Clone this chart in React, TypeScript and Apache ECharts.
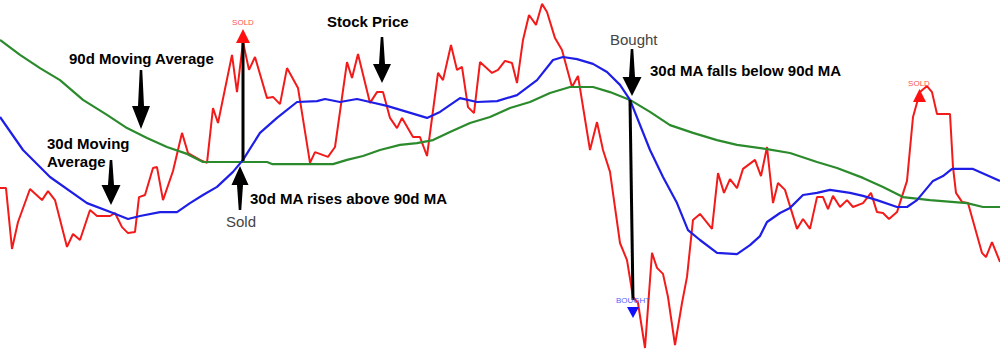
import React, { useEffect, useRef } from "react";
import * as echarts from "echarts";

// [trading day, price]
const stockPrice: number[][] = [
  [0, 57.3], [1.2, 57.3], [2.4, 37], [3.6, 46], [6, 57], [8.4, 53.3], [9.6, 56.3], [11, 53.3],
  [13.4, 37.7], [14.6, 42], [16, 40], [18, 50], [19.4, 48], [22, 48], [23, 49], [24.4, 44.3],
  [25.6, 42.3], [27, 42.7], [27.8, 54.3], [29, 55], [30.6, 64], [31.4, 64.3], [32.6, 53.3],
  [34.6, 63], [36.4, 75.7], [37.6, 69], [40, 66.7], [41.4, 65.7], [42.6, 84], [43.6, 79],
  [46.4, 101.7], [47.4, 89.3], [48.6, 106], [49.8, 96.7], [51, 101], [53.4, 87.3], [54.6, 87.7],
  [56, 85.3], [57.4, 97.3], [59.6, 90.7], [62, 65.7], [63, 69.3], [65.6, 67.7], [67, 71],
  [69.4, 99.3], [70.4, 94], [71.6, 102], [74, 85.7], [75.4, 89.3], [76.6, 89.3], [78, 80.7],
  [79.4, 77.3], [80.4, 80.7], [82.6, 74.3], [84, 74.3], [85.4, 68], [87.6, 95.7], [88.6, 93.3],
  [90.2, 105], [91.4, 96.7], [92.4, 97.7], [93.6, 84.3], [94.8, 82.3], [96, 99.3], [98.4, 95.7],
  [99.6, 96.7], [101, 99.7], [102.4, 99], [103.4, 92.3], [104.6, 106.7], [105.8, 115],
  [107.2, 111.7], [108.4, 118.7], [109.4, 116], [111, 107.3], [112.4, 103.3], [114.4, 91],
  [115.6, 94.7], [118, 70], [119.4, 79.3], [120.6, 70], [122, 62.7], [124, 39], [125.4, 33.3],
  [126.6, 21], [127.6, 19], [129, 4], [130.4, 35.7], [131.4, 30.7], [132.6, 28.7], [133.6, 21],
  [135, 5], [136.4, 19], [137.4, 27.7], [138.6, 46.7], [140, 48.7], [142.4, 43.7], [143.6, 62.3],
  [144.8, 55.7], [146, 60.3], [147.4, 57.3], [148.6, 63.7], [151, 66.7], [152.2, 61.3],
  [153.4, 71], [154.6, 52.3], [155.6, 59], [157, 56.7], [159.4, 43.7], [160.6, 47], [162, 43.7],
  [163.4, 54.3], [164.6, 54.3], [165.6, 50.3], [166.6, 54.7], [168, 51], [169.4, 53.3],
  [170.6, 51], [172.6, 52.3], [174.2, 55.7], [175.4, 49.3], [176.6, 49], [177.8, 47],
  [179.4, 49.3], [181.4, 59.7], [182.6, 81], [184, 89.3], [185.4, 91.3], [186.4, 89.3],
  [187.4, 82], [190, 82], [190.6, 64.3], [191.2, 55.7], [192.4, 52.7], [193.6, 52.3],
  [196.4, 35.7], [197.2, 34.3], [198.4, 39.3], [200, 32.7],
];

const ma30: number[][] = [
  [0, 81], [4.6, 70], [10, 61], [17.4, 52.3], [22.6, 49], [25.6, 47], [28, 48], [32, 49.3],
  [35.4, 49.3], [38, 52.3], [40.6, 55], [43.4, 57.7], [46.6, 62.7], [48.6, 66.7], [52, 75.7],
  [55.4, 80.7], [59.4, 86], [63.4, 86.3], [65, 87], [68, 86], [71.4, 87], [74, 86], [77.4, 84.7],
  [81.4, 82.7], [85.4, 80.7], [88, 82.7], [92, 87.3], [95.4, 86], [99.4, 86.3], [103.4, 88.3],
  [107.4, 93.3], [110.6, 100], [112.6, 101], [115.4, 100.3], [118.6, 98.7], [121.4, 96],
  [124, 91.7], [126, 86.7], [130, 70], [132.6, 61], [135.4, 52.3], [137.6, 43.3], [140, 40],
  [143.4, 35.7], [147.4, 35.3], [150, 38.3], [152, 41.3], [153.4, 46], [156, 49], [158, 50.7],
  [160.6, 55], [163.4, 55.7], [166, 56.7], [170, 55.7], [172.6, 54.7], [175.4, 53.3],
  [179.4, 51], [181.4, 51], [183.4, 53.3], [186.6, 59.7], [188.6, 61.3], [190.4, 63.7],
  [194.6, 63.7], [200, 59.7],
];

const ma90: number[][] = [
  [0, 106.7], [4, 101.7], [8, 97.3], [12, 93.3], [16.6, 86.7], [21.4, 81.7], [25.4, 77.3],
  [29.4, 74], [33.4, 71], [37.4, 68.7], [40.6, 66], [53.4, 66], [54.4, 65.3], [66.6, 65.3],
  [69.4, 66.7], [72.6, 68], [76, 70], [80, 71.7], [83.4, 72.3], [86.6, 73.3], [90, 76], [94, 79],
  [98, 81], [102, 84], [106, 86], [110, 89], [114, 91], [118.6, 91], [122, 89.3], [126, 86.7],
  [130, 82.7], [134, 78.3], [138.6, 75.7], [143.4, 73.3], [147.4, 71.7], [153.4, 70.3],
  [158, 69], [163.4, 66], [167.4, 64], [172.6, 60.7], [176.6, 57.7], [180.6, 54.3], [186, 53.3],
  [193.4, 52.3], [196.6, 51], [200, 51],
];

const FONT = '"Liberation Sans", Arial, sans-serif';

function arrow(cx: number, yStart: number, yHead: number, yTip: number, hw: number, w0: number, w1: number) {
  return {
    type: "polygon",
    z: 100,
    shape: {
      points: [
        [cx - w0 / 2, yStart], [cx + w0 / 2, yStart], [cx + w1 / 2, yHead], [cx + hw, yHead],
        [cx, yTip], [cx - hw, yHead], [cx - w1 / 2, yHead],
      ],
    },
    style: { fill: "#000" },
  };
}

function label(text: string, x: number, y: number, opts: any = {}) {
  return {
    type: "text",
    z: 100,
    x,
    y,
    style: {
      text,
      fill: opts.fill || "#000",
      fontSize: opts.fontSize || 15,
      fontWeight: opts.fontWeight || "bold",
      fontFamily: FONT,
      align: opts.align || "left",
      verticalAlign: "middle",
    },
  };
}

export default function App() {
  const ref = useRef<HTMLDivElement>(null);
  useEffect(() => {
    if (!ref.current) return;
    const chart = echarts.init(ref.current, null, { renderer: "svg" });
    chart.setOption({
      animation: false,
      backgroundColor: "#fff",
      grid: { left: 0, right: 0, top: 0, bottom: 1 },
      xAxis: { type: "value", min: 0, max: 200, show: false },
      yAxis: { type: "value", min: 0, max: 120, show: false },
      series: [
        {
          name: "Stock Price",
          type: "line",
          data: stockPrice,
          showSymbol: false,
          lineStyle: { color: "#f31a1a", width: 2 },
          z: 2,
        },
        {
          name: "90d Moving Average",
          type: "line",
          data: ma90,
          showSymbol: false,
          lineStyle: { color: "#2b8a2b", width: 2.2 },
          z: 3,
        },
        {
          name: "30d Moving Average",
          type: "line",
          data: ma30,
          showSymbol: false,
          lineStyle: { color: "#1e1ee6", width: 2.2 },
          z: 4,
        },
      ],
      graphic: [
        // arrows
        arrow(141, 70, 106, 129, 9, 2.5, 6),
        arrow(111, 160, 185, 205, 9.5, 2.5, 6),
        arrow(382, 37, 64, 83, 9, 2.5, 6),
        arrow(240, 210, 185, 166, 8.5, 2.5, 6),
        arrow(632, 49, 77, 96, 9.5, 2.5, 6),
        // signal lines
        { type: "line", z: 100, shape: { x1: 243, y1: 161, x2: 243, y2: 42 }, style: { stroke: "#000", lineWidth: 3 } },
        { type: "line", z: 100, shape: { x1: 630, y1: 100, x2: 633, y2: 300 }, style: { stroke: "#000", lineWidth: 3 } },
        // markers
        { type: "polygon", z: 101, shape: { points: [[236, 43], [250, 43], [243, 29]] }, style: { fill: "#ff1010" } },
        { type: "polygon", z: 101, shape: { points: [[913, 102], [926, 102], [919.5, 89]] }, style: { fill: "#ff1010" } },
        { type: "polygon", z: 101, shape: { points: [[627, 307], [639, 307], [633, 318]] }, style: { fill: "#1010ff" } },
        label("SOLD", 243, 22, { fontSize: 8, fontWeight: "normal", fill: "#ff5050", align: "center" }),
        label("SOLD", 919, 83, { fontSize: 8, fontWeight: "normal", fill: "#ff5050", align: "center" }),
        label("BOUGHT", 633, 300, { fontSize: 8, fontWeight: "normal", fill: "#6060ff", align: "center" }),
        // text
        label("90d Moving Average", 69, 58),
        label("30d Moving", 47, 143),
        label("Average", 47, 161),
        label("Stock Price", 327, 21),
        label("30d MA rises above 90d MA", 250, 198),
        label("Sold", 226, 221, { fontWeight: "normal", fill: "#444" }),
        label("Bought", 610, 39, { fontWeight: "normal", fill: "#444" }),
        label("30d MA falls below 90d MA", 650, 70),
      ],
    });
    return () => chart.dispose();
  }, []);
  return (
    <div
      ref={ref}
      style={{ position: "absolute", left: 0, top: 0, width: 1000, height: 361 }}
    />
  );
}
